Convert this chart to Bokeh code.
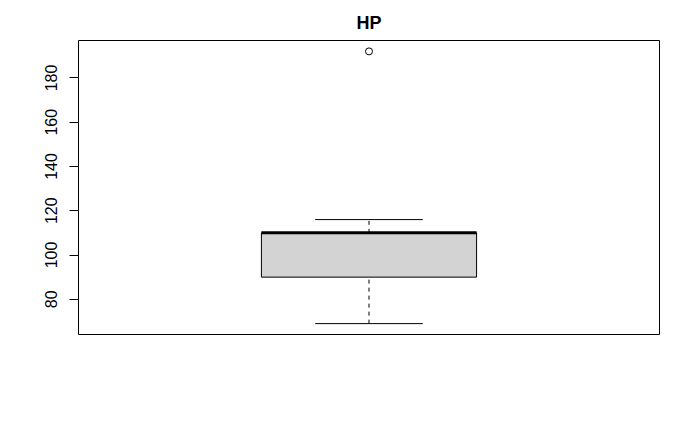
from bokeh.plotting import figure
from bokeh.models import Range1d, FixedTicker, ColumnDataSource
from bokeh.embed import file_html
from bokeh.resources import INLINE

# Boxplot statistics for HP
title_text = "HP"
stat_min = [69]
stat_q1 = [90]
stat_median = [110]
stat_q3 = [110]
stat_max = [116]
outliers = [192]
positions = [1]
y_ticks = [80, 100, 120, 140, 160, 180]

lo = min(stat_min + outliers)
hi = max(stat_max + outliers)
pad = (hi - lo) * 0.04
n = len(positions)
xpad = n * 0.04

p = figure(width=700, height=432, output_backend="svg", toolbar_location=None,
           x_range=Range1d(0.5 - xpad, n + 0.5 + xpad),
           y_range=Range1d(lo - pad, hi + pad),
           min_border_left=78, min_border_right=41,
           min_border_top=40, min_border_bottom=98)

p.title.text = title_text
p.title.align = "center"
p.title.text_font = "Liberation Sans"
p.title.text_font_size = "18px"
p.title.text_font_style = "bold"
p.title.text_color = "black"
p.title.standoff = 15

p.xaxis.visible = False
p.xgrid.visible = False
p.ygrid.visible = False
p.outline_line_color = "black"
p.outline_line_width = 1
p.background_fill_color = "white"
p.border_fill_color = "white"

yax = p.yaxis[0]
yax.ticker = FixedTicker(ticks=y_ticks)
yax.axis_line_color = None
yax.major_tick_out = 9
yax.major_tick_in = 0
yax.minor_tick_line_color = None
yax.major_tick_line_color = "black"
yax.major_label_orientation = "vertical"
yax.major_label_text_font = "Liberation Sans"
yax.major_label_text_font_size = "16px"
yax.major_label_text_color = "black"
yax.major_label_standoff = 12

box_w = 0.4
cap_w = box_w * 0.5
src = ColumnDataSource(dict(x=positions, mn=stat_min, q1=stat_q1, med=stat_median,
                            q3=stat_q3, mx=stat_max,
                            l=[x - box_w / 2 for x in positions], r=[x + box_w / 2 for x in positions],
                            cl=[x - cap_w / 2 for x in positions], cr=[x + cap_w / 2 for x in positions]))

# whiskers (dashed)
p.segment(x0="x", y0="q3", x1="x", y1="mx", source=src, line_color="black", line_width=1, line_dash="4 4")
p.segment(x0="x", y0="mn", x1="x", y1="q1", source=src, line_color="black", line_width=1, line_dash="4 4")
# staples
p.segment(x0="cl", y0="mx", x1="cr", y1="mx", source=src, line_color="black", line_width=1)
p.segment(x0="cl", y0="mn", x1="cr", y1="mn", source=src, line_color="black", line_width=1)
# box
p.quad(left="l", right="r", bottom="q1", top="q3", source=src, fill_color="#D3D3D3",
       line_color="black", line_width=1)
# median
p.segment(x0="l", y0="med", x1="r", y1="med", source=src, line_color="black", line_width=3)
# outliers
p.scatter(x=[positions[0]] * len(outliers), y=outliers, marker="circle", size=7,
          fill_color=None, line_color="black", line_width=1)

open("out.html", "w").write(file_html(p, INLINE))
